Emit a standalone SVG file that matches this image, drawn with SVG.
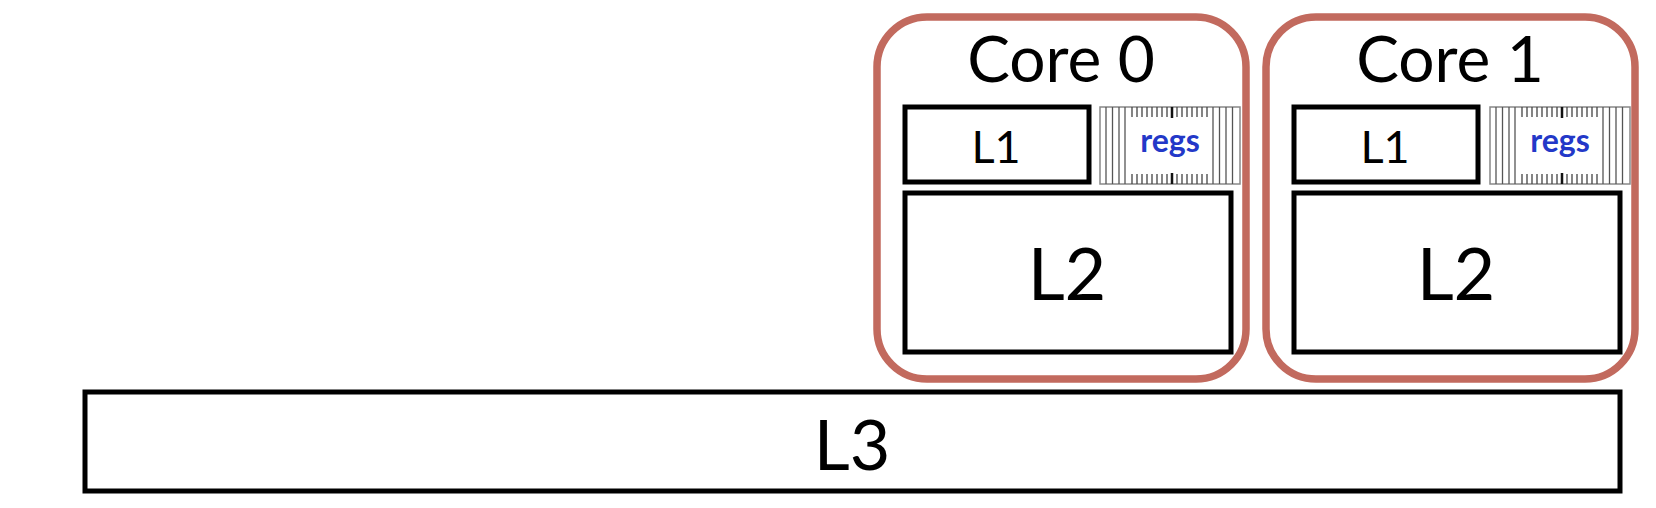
<svg xmlns="http://www.w3.org/2000/svg" width="1656" height="508" viewBox="0 0 1656 508">
<style>
.core{fill:#fff;stroke:#c26a5e;stroke-width:7.5}
.box{fill:#fff;stroke:#000;stroke-width:5}
.t{font-family:Lato,"Open Sans","Liberation Sans",sans-serif;fill:#000;text-anchor:middle}
.regs{font-family:Lato,"Open Sans","Liberation Sans",sans-serif;font-weight:bold;fill:#2338c8;text-anchor:middle;font-size:32px}
.rl{stroke:#555;stroke-width:1.3}
.tk{stroke:#444;stroke-width:1.3}
</style>
<defs>
<g id="regsbox">
<rect x="0" y="0" width="140" height="77" fill="#fff" stroke="#888" stroke-width="1.5"/>
<g class="rl">
<line x1="6" y1="0" x2="6" y2="77"/><line x1="12.5" y1="0" x2="12.5" y2="77"/><line x1="19" y1="0" x2="19" y2="77"/><line x1="25" y1="0" x2="25" y2="77"/>
<line x1="113" y1="0" x2="113" y2="77"/><line x1="119.5" y1="0" x2="119.5" y2="77"/><line x1="126" y1="0" x2="126" y2="77"/><line x1="132.5" y1="0" x2="132.5" y2="77"/>
</g>
<g class="tk">
<path d="M32 0v10M37 0v10M42 0v10M47 0v10M52 0v10M57 0v10M62 0v10M67 0v10M77 0v10M82 0v10M87 0v10M92 0v10M97 0v10M102 0v10M107 0v10"/>
<path d="M32 77v-10M37 77v-10M42 77v-10M47 77v-10M52 77v-10M57 77v-10M62 77v-10M67 77v-10M77 77v-10M82 77v-10M87 77v-10M92 77v-10M97 77v-10M102 77v-10M107 77v-10"/>
</g>
<path d="M72 0v11M72 77v-11" stroke="#111" stroke-width="2.5"/>
</g>
</defs>

<g id="core0">
<rect class="core" x="877" y="17" width="369" height="362" rx="50"/>
<text class="t" x="1061" y="82" font-size="64">Core 0</text>
<g id="core0-l1"><rect class="box" x="905" y="107" width="184" height="75"/><text class="t" x="996" y="163" font-size="45">L1</text></g>
<g id="core0-regs"><use href="#regsbox" x="1100" y="107"/><text class="regs" x="1170" y="152">regs</text></g>
<g id="core0-l2"><rect class="box" x="905" y="193" width="326" height="159"/><text class="t" x="1067" y="300" font-size="72">L2</text></g>
</g>

<g id="core1">
<rect class="core" x="1266" y="17" width="369" height="362" rx="50"/>
<text class="t" x="1450" y="82" font-size="64">Core 1</text>
<g id="core1-l1"><rect class="box" x="1294" y="107" width="184" height="75"/><text class="t" x="1385" y="163" font-size="45">L1</text></g>
<g id="core1-regs"><use href="#regsbox" x="1490" y="107"/><text class="regs" x="1560" y="152">regs</text></g>
<g id="core1-l2"><rect class="box" x="1294" y="193" width="326" height="159"/><text class="t" x="1456" y="300" font-size="72">L2</text></g>
</g>

<g id="l3">
<rect class="box" x="85" y="392" width="1535" height="99"/>
<text class="t" x="852" y="470" font-size="70">L3</text>
</g>

<g id="connectors"></g>
</svg>
